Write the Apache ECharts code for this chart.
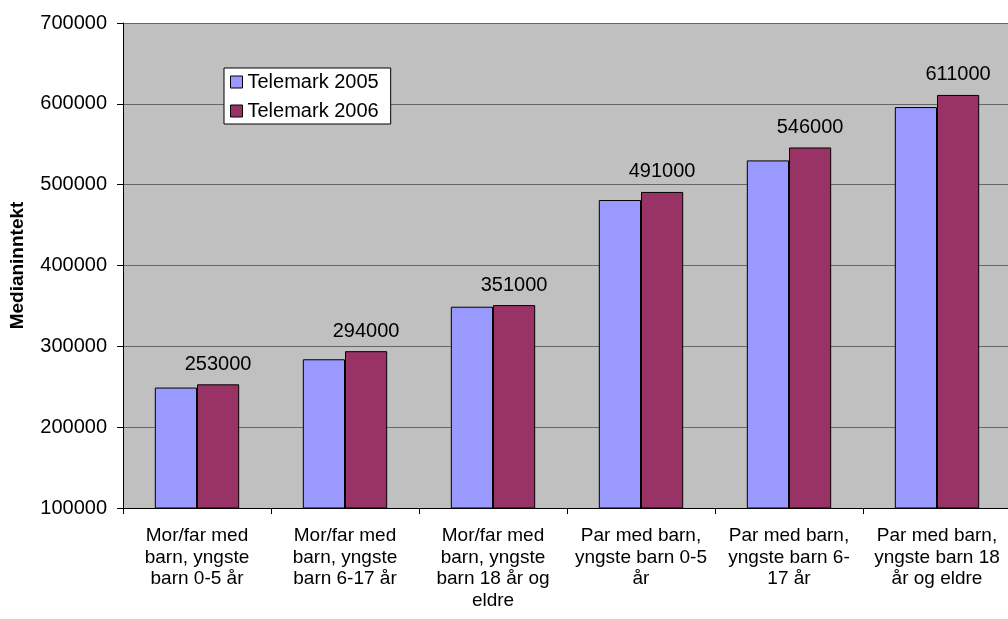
<!DOCTYPE html>
<html>
<head>
<meta charset="utf-8">
<script src="https://cdn.jsdelivr.net/npm/echarts@6/dist/echarts.min.js"></script>
<style>
  html, body { margin: 0; padding: 0; background: #fff; }
  #chart { width: 1008px; height: 619px; }
</style>
</head>
<body>
<div id="chart"></div>
<script>
// kategorier og verdier
const categories = [
  'Mor/far med\nbarn, yngste\nbarn 0-5 år',
  'Mor/far med\nbarn, yngste\nbarn 6-17 år',
  'Mor/far med\nbarn, yngste\nbarn 18 år og\neldre',
  'Par med barn,\nyngste barn 0-5\når',
  'Par med barn,\nyngste barn 6-\n17 år',
  'Par med barn,\nyngste barn 18\når og eldre',
];
const seriesNames = ['Telemark 2005', 'Telemark 2006'];
const values2005 = [249000, 284000, 349000, 481000, 530000, 596000];
const values2006 = [253000, 294000, 351000, 491000, 546000, 611000];
const yTicks = [100000, 200000, 300000, 400000, 500000, 600000, 700000];

const font = 'Liberation Sans, Arial, sans-serif';
const chart = echarts.init(document.getElementById('chart'));

const option = {
  animation: false,
  textStyle: { fontFamily: font },
  grid: {
    left: 123,
    top: 23,
    right: -3,
    bottom: 111,
    containLabel: false,
    outerBoundsMode: 'none',
    show: true,
    backgroundColor: '#c0c0c0',
    borderWidth: 0,
  },
  legend: {
    orient: 'vertical',
    left: 224,
    top: 68,
    itemWidth: 12,
    itemHeight: 12,
    itemGap: 9,
    padding: [4, 12, 3, 6],
    backgroundColor: '#fff',
    borderColor: '#000',
    borderWidth: 1,
    borderRadius: 0,
    icon: 'rect',
    itemStyle: { borderColor: '#000', borderWidth: 1 },
    textStyle: { fontFamily: font, fontSize: 20, color: '#000' },
    data: seriesNames,
  },
  xAxis: {
    type: 'category',
    data: categories,
    axisLine: { lineStyle: { color: '#000', width: 1 } },
    axisTick: { show: true, alignWithLabel: false, length: 6, lineStyle: { color: '#000' } },
    axisLabel: {
      interval: 0,
      color: '#000',
      fontSize: 19,
      lineHeight: 21.7,
      margin: 17,
      fontFamily: font,
    },
  },
  yAxis: {
    type: 'value',
    min: yTicks[0],
    max: yTicks[yTicks.length - 1],
    interval: 100000,
    name: 'Medianinntekt',
    nameLocation: 'middle',
    nameGap: 96,
    nameRotate: 90,
    nameTextStyle: { fontFamily: font, fontSize: 19, fontWeight: 'bold', color: '#000' },
    axisLine: { show: true, lineStyle: { color: '#000', width: 1 } },
    axisTick: { show: true, length: 6, lineStyle: { color: '#000' } },
    axisLabel: {
      color: '#000',
      fontSize: 20,
      margin: 16,
      fontFamily: font,
      formatter: (v) => String(v),
    },
    splitLine: { show: true, lineStyle: { color: '#666', width: 1 } },
  },
  series: [
    {
      name: seriesNames[0],
      type: 'bar',
      data: values2005,
      barGap: '0%',
      barCategoryGap: '43%',
      itemStyle: { color: '#9999ff', borderColor: '#000', borderWidth: 1 },
    },
    {
      name: seriesNames[1],
      type: 'bar',
      data: values2006,
      barGap: '0%',
      barCategoryGap: '43%',
      itemStyle: { color: '#993366', borderColor: '#000', borderWidth: 1 },
      label: {
        show: true,
        position: 'top',
        distance: 10,
        color: '#000',
        fontSize: 20,
        fontFamily: font,
      },
    },
  ],
};
chart.setOption(option);
</script>
</body>
</html>
